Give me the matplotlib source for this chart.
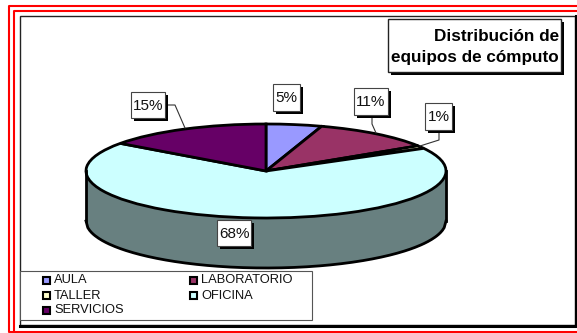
import numpy as np
import matplotlib
matplotlib.use("Agg")
import matplotlib.pyplot as plt
from matplotlib.patches import Rectangle

# Data
categories = ["AULA", "LABORATORIO", "TALLER", "OFICINA", "SERVICIOS"]
values = [5, 11, 1, 68, 15]
colors = ["#9999FF", "#993366", "#FFFFCC", "#CCFFFF", "#660066"]
side_color = "#688080"
title_lines = "Distribución de\nequipos de cómputo"

W, H = 577, 333
plt.rcParams["font.family"] = ["Liberation Sans", "DejaVu Sans"]

fig = plt.figure(figsize=(W / 100, H / 100), dpi=100)

# page axes in pixel coordinates, for the frames
page = fig.add_axes([0, 0, 1, 1])
page.set_xlim(0, W)
page.set_ylim(H, 0)
page.axis("off")

# red double border
red = "#FF0000"
page.plot([W + 2, 9, 9, W + 2], [6, 6, 331.5, 331.5], color=red, lw=1.5)
page.plot([W + 2, 14, 14], [11, 11, 331.5], color=red, lw=1.5)

# chart frame with heavy shadow on right and bottom
page.add_patch(Rectangle((19.5, 15.5), 555, 309, fc="white", ec="#222222", lw=1))
page.plot([19.5, 576, 576], [326, 326, 15.5], color="black", lw=2.2)

# pie, squeezed to an ellipse by its axes
px0, px1, py0, py1 = 86, 446, 124, 218
depth = 50
pie_ax = fig.add_axes([px0 / W, 1 - (py1 + depth) / H, (px1 - px0) / W,
                       (py1 + depth - py0) / H])
pie_ax.patch.set_alpha(0)
ry_px = (py1 - py0) / 2
d = depth / ry_px

t = np.linspace(-1, 1, 200)
pie_ax.fill_between(t, -np.sqrt(1 - t ** 2), -np.sqrt(1 - t ** 2) - d,
                    color=side_color, lw=0, clip_on=False)
pie_ax.plot(t, -np.sqrt(1 - t ** 2) - d, color="black", lw=2, clip_on=False)
pie_ax.plot([-1, -1], [0, -d], color="black", lw=2, clip_on=False)
pie_ax.plot([1, 1], [0, -d], color="black", lw=2, clip_on=False)

pie_ax.pie(values, colors=colors, startangle=90, counterclock=False, radius=1,
           wedgeprops=dict(edgecolor="black", linewidth=2))
pie_ax.set_aspect("auto")
pie_ax.set_xlim(-1, 1)
pie_ax.set_ylim(-1 - d, 1)
for s in pie_ax.patches:
    s.set_clip_on(False)

# top axes for labels, title and legend
label_boxes = [(273, 84, 300, 111), (354, 88, 388, 115), (425, 103, 452, 130),
               (217, 220, 251, 246), (131, 92, 165, 118)]
label_ax = fig.add_axes([0, 0, 1, 1])
label_ax.set_xlim(0, W)
label_ax.set_ylim(H, 0)
label_ax.axis("off")
label_ax.patch.set_alpha(0)
page.set_zorder(0)
pie_ax.set_zorder(1)
label_ax.set_zorder(2)
leaders = [[(372, 115), (372, 124), (376, 133)],
           [(439, 130), (439, 140), (420, 146)],
           [(165, 105), (175, 105), (185, 128)]]
for pts in leaders:
    xs, ys = zip(*pts)
    label_ax.plot(xs, ys, color="#333333", lw=0.8, zorder=3)
for v, (x0, y0, x1, y1) in zip(values, label_boxes):
    label_ax.add_patch(Rectangle((x0 + 2.5, y0 + 2.5), x1 - x0, y1 - y0, fc="black", ec="none", zorder=4))
    label_ax.add_patch(Rectangle((x0, y0), x1 - x0, y1 - y0, fc="white", ec="#444444", lw=0.8, zorder=5))
    label_ax.text((x0 + x1) / 2, (y0 + y1) / 2 + 0.5, f"{v}%", ha="center", va="center",
                  fontsize=11, color="#111111", zorder=6)

# title box
label_ax.add_patch(Rectangle((390.5, 21.5), 173, 53, fc="black", ec="none", zorder=4))
label_ax.add_patch(Rectangle((388, 19), 173, 53, fc="white", ec="#222222", lw=1, zorder=5))
label_ax.text(559, 47, title_lines, ha="right", va="center", fontsize=12.3,
              fontweight="bold", linespacing=1.45, color="black", zorder=6)

# legend
label_ax.add_patch(Rectangle((20, 271), 292, 49, fc="white", ec="#555555", lw=0.8, zorder=4))
legend_x = [43, 190]
legend_y = [280, 295.5, 310]
for i, name in enumerate(categories):
    lx = legend_x[i % 2]
    ly = legend_y[i // 2]
    label_ax.add_patch(Rectangle((lx, ly - 3.5), 6.5, 7, fc=colors[i], ec="black", lw=1.5, zorder=5))
    label_ax.text(lx + 11, ly + 0.3, name, ha="left", va="center", fontsize=9.3,
                  color="#111111", zorder=6)

fig.savefig("out.png", dpi=100)
